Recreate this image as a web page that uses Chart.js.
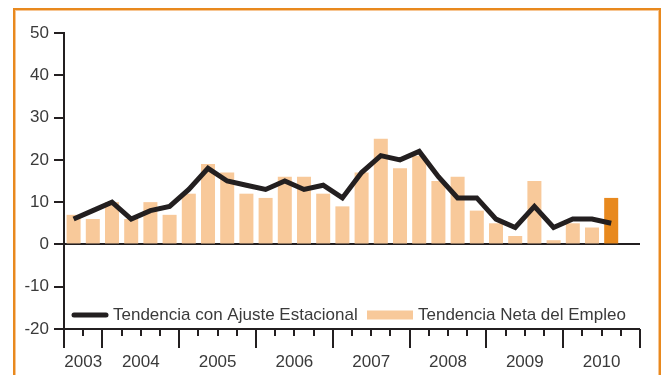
<!DOCTYPE html>
<html>
<head>
<meta charset="utf-8">
<title>Tendencia Neta del Empleo</title>
<script src="https://cdn.jsdelivr.net/npm/chart.js@4.4.1/dist/chart.umd.min.js"></script>
<style>
  html, body { margin: 0; padding: 0; background: #fff; overflow: hidden; }
  #wrap { position: relative; width: 667px; height: 375px; }
  #frame {
    position: absolute; left: 13px; top: 8px; width: 644px; height: 400px;
    border: 2px solid #e8891e; box-shadow: inset 0 0 0 1px #f7c694;
  }
  #chart { position: absolute; left: 0; top: 0; }
</style>
</head>
<body>
<div id="wrap">
  <div id="frame"></div>
  <canvas id="chart" width="667" height="375"></canvas>
</div>
<script>
// quarters from 2003 T3 to 2010 T4 (the last one still has no data)
const quarters = [
  '2003 T3', '2003 T4',
  '2004 T1', '2004 T2', '2004 T3', '2004 T4',
  '2005 T1', '2005 T2', '2005 T3', '2005 T4',
  '2006 T1', '2006 T2', '2006 T3', '2006 T4',
  '2007 T1', '2007 T2', '2007 T3', '2007 T4',
  '2008 T1', '2008 T2', '2008 T3', '2008 T4',
  '2009 T1', '2009 T2', '2009 T3', '2009 T4',
  '2010 T1', '2010 T2', '2010 T3', '2010 T4'
];
const years = ['2003', '2004', '2005', '2006', '2007', '2008', '2009', '2010'];

// Tendencia Neta del Empleo (bars)
const netTrend = [7, 6, 10, 6, 10, 7, 12, 19, 17, 12, 11, 16, 16, 12, 9, 17, 25, 18, 21, 15, 16, 8, 5, 2, 15, 1, 5, 4, 11];
// Tendencia con Ajuste Estacional (line)
const adjustedTrend = [6, 8, 10, 6, 8, 9, 13, 18, 15, 14, 13, 15, 13, 14, 11, 17, 21, 20, 22, 16, 11, 11, 6, 4, 9, 4, 6, 6, 5];

const yTicks = { min: -20, max: 50, step: 10 };

const INK = '#231f20';
const TEXT = '#3a3a3a';
const PEACH = '#f8c99a';
const ORANGE = '#e8891e';
const FONT = '"Liberation Sans", Arial, sans-serif';

const barColors = netTrend.map((v, i) => i === netTrend.length - 1 ? ORANGE : PEACH);

// bottom axis with quarter ticks, year ticks, year labels, plus the legend
const axisAndLegend = {
  id: 'axisAndLegend',
  afterDraw(chart) {
    const ctx = chart.ctx;
    const x = chart.scales.x;
    const area = chart.chartArea;
    const step = x.getPixelForValue(1) - x.getPixelForValue(0);
    const edge = i => x.getPixelForValue(0) - step / 2 + i * step;
    const base = area.bottom;

    ctx.save();
    ctx.strokeStyle = INK;
    ctx.lineWidth = 2;
    for (let i = 0; i <= quarters.length; i++) {
      const major = i === 0 || i === quarters.length || quarters[i].endsWith('T1');
      const px = Math.round(edge(i));
      ctx.beginPath();
      ctx.moveTo(px, base);
      ctx.lineTo(px, base + (major ? 19 : 7));
      ctx.stroke();
    }

    ctx.fillStyle = TEXT;
    ctx.font = '17px ' + FONT;
    ctx.textAlign = 'center';
    ctx.textBaseline = 'middle';
    years.forEach(y => {
      const first = quarters.findIndex(q => q.startsWith(y));
      let last = first;
      while (last + 1 < quarters.length && quarters[last + 1].startsWith(y)) last++;
      const cx = (edge(first) + edge(last + 1)) / 2;
      ctx.fillText(y, cx, base + 33);
    });

    // legend
    const ly = base - 14;
    const lineSet = chart.data.datasets[1];
    const barSet = chart.data.datasets[0];
    ctx.font = '17px ' + FONT;
    ctx.textAlign = 'left';
    ctx.strokeStyle = lineSet.borderColor;
    ctx.lineWidth = 5;
    ctx.lineCap = 'round';
    ctx.beginPath();
    ctx.moveTo(area.left + 10, ly);
    ctx.lineTo(area.left + 42, ly);
    ctx.stroke();
    ctx.fillText(lineSet.label, area.left + 49, ly);

    ctx.fillStyle = PEACH;
    ctx.fillRect(area.left + 303, ly - 4.5, 46, 9);
    ctx.fillStyle = TEXT;
    ctx.fillText(barSet.label, area.left + 354, ly);
    ctx.restore();
  }
};

new Chart(document.getElementById('chart'), {
  data: {
    labels: quarters,
    datasets: [
      {
        type: 'bar',
        label: 'Tendencia Neta del Empleo',
        data: netTrend,
        backgroundColor: barColors,
        categoryPercentage: 1,
        barPercentage: 0.73,
        order: 2
      },
      {
        type: 'line',
        label: 'Tendencia con Ajuste Estacional',
        data: adjustedTrend,
        borderColor: INK,
        borderWidth: 5,
        pointRadius: 0,
        tension: 0,
        order: 1
      }
    ]
  },
  options: {
    responsive: false,
    animation: false,
    devicePixelRatio: 1,
    layout: { padding: { left: 14, top: 33, right: 27, bottom: 46 } },
    plugins: {
      legend: { display: false },
      tooltip: { enabled: false }
    },
    scales: {
      x: {
        type: 'category',
        offset: true,
        display: false
      },
      y: {
        min: yTicks.min,
        max: yTicks.max,
        afterFit: scale => { scale.width = 50; },
        ticks: {
          stepSize: yTicks.step,
          color: TEXT,
          font: { family: FONT, size: 17 },
          padding: 5
        },
        border: { display: true, color: INK, width: 2 },
        grid: {
          drawOnChartArea: true,
          tickLength: 10,
          tickWidth: 2,
          tickColor: INK,
          lineWidth: 2,
          color: c => (c.tick && (c.tick.value === 0 || c.tick.value === yTicks.min)) ? INK : 'rgba(0,0,0,0)'
        }
      }
    }
  },
  plugins: [axisAndLegend]
});
</script>
</body>
</html>
